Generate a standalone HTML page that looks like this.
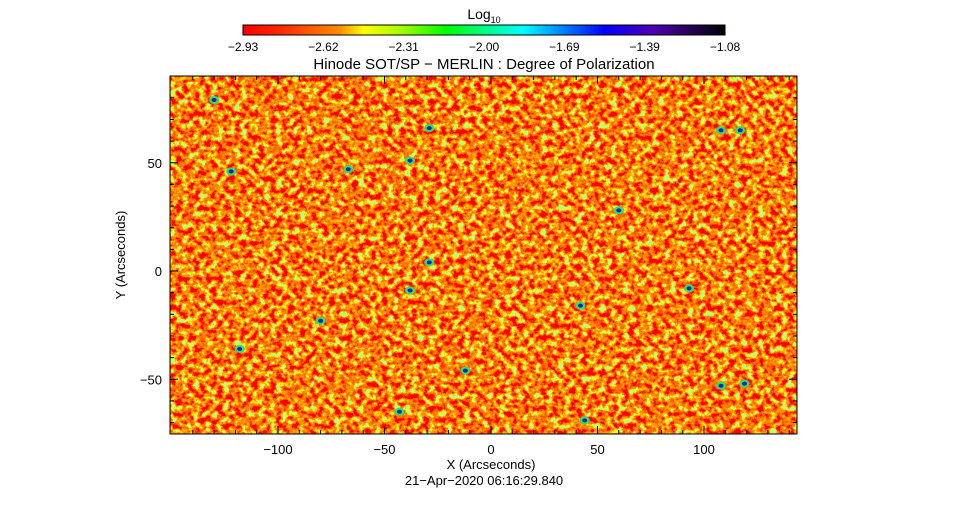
<!DOCTYPE html>
<html><head><meta charset="utf-8"><style>
body{margin:0;background:#fff;}
svg text{font-family:"Liberation Sans",sans-serif;fill:#000;}
</style></head><body>
<svg id="chart" width="967" height="512" viewBox="0 0 967 512">
<defs>
<linearGradient id="cbar" x1="0" x2="1" y1="0" y2="0">
<stop offset="0" stop-color="#ff0000"/><stop offset="0.08" stop-color="#ff2a00"/><stop offset="0.2" stop-color="#ff8c00"/><stop offset="0.25" stop-color="#ffff00"/><stop offset="0.33" stop-color="#a0ff00"/><stop offset="0.42" stop-color="#00ff00"/><stop offset="0.58" stop-color="#00ffff"/><stop offset="0.75" stop-color="#0000ff"/><stop offset="0.85" stop-color="#5000b0"/><stop offset="1" stop-color="#000000"/>
</linearGradient>
<filter id="noise" x="0" y="0" width="100%" height="100%">
<feTurbulence type="fractalNoise" baseFrequency="0.17" numOctaves="4" seed="7"/>
<feColorMatrix type="matrix" values="2.4 0 0 0 -0.7  2.4 0 0 0 -0.7  2.4 0 0 0 -0.7  0 0 0 0 1"/>
<feComponentTransfer>
<feFuncR type="discrete" tableValues="1 1 1 1 1 1 1 1 1 0.5"/>
<feFuncG type="discrete" tableValues="0 0 0.05 0.1 0.17 0.25 0.35 0.5 0.9 1"/>
<feFuncB type="discrete" tableValues="0 0 0 0 0 0 0 0 0 0.2"/>
</feComponentTransfer>
</filter>
<clipPath id="plotclip"><rect x="170" y="76" width="627" height="358"/></clipPath>
</defs>
<text x="484" y="19" font-size="14" text-anchor="middle">Log<tspan font-size="9" dy="4">10</tspan></text>
<rect x="243" y="25" width="482" height="10" fill="url(#cbar)" stroke="#000"/>
<g id="cbticks"></g>
<text x="484" y="69" font-size="15" text-anchor="middle">Hinode SOT/SP − MERLIN : Degree of Polarization</text>
<rect x="170" y="76" width="627" height="358" fill="#f00" filter="url(#noise)"/>
<g id="blobs" clip-path="url(#plotclip)"></g>
<rect x="170" y="76" width="627" height="358" fill="none" stroke="#000"/>
<g id="axes"></g>
<text x="491" y="469" font-size="13" text-anchor="middle">X (Arcseconds)</text>
<text x="125" y="255" font-size="13" text-anchor="middle" transform="rotate(-90 125 255)">Y (Arcseconds)</text>
<text x="484" y="485" font-size="13" text-anchor="middle">21−Apr−2020 06:16:29.840</text>
</svg>
<script>
const cbLabels=["−2.93","−2.62","−2.31","−2.00","−1.69","−1.39","−1.08"];
const xTicks=[-100,-50,0,50,100];
const yTicks=[-50,0,50];
const blobX=[-130,-122,-67,-38,-29,60,93,108,119,-43,44,42,-38,-29,-118,108,117,-12,-80];
const blobY=[79,46,47,51,66,28,-8,-53,-52,-65,-69,-16,-9,4,-36,65,65,-46,-23];
const NS="http://www.w3.org/2000/svg";
const sx=v=>491+v*2.13, sy=v=>271-v*2.165;
function mk(tag,attrs,parent){const e=document.createElementNS(NS,tag);for(const k in attrs)e.setAttribute(k,attrs[k]);parent.appendChild(e);return e;}
const cb=document.getElementById('cbticks');
cbLabels.forEach((l,i)=>{const x=243+i*482/6;const t=mk('text',{x:x,y:51,'font-size':12,'text-anchor':'middle'},cb);t.textContent=l;

});
const ax=document.getElementById('axes');
for(let v=-140;v<=140;v+=10){const x=sx(v);const len=v%50===0?8:4;
mk('line',{x1:x,x2:x,y1:434,y2:434-len,stroke:'#000'},ax);mk('line',{x1:x,x2:x,y1:76,y2:76+len,stroke:'#000'},ax);}
for(let v=-70;v<=80;v+=10){const y=sy(v);const len=v%50===0?8:4;
mk('line',{x1:170,x2:170+len,y1:y,y2:y,stroke:'#000'},ax);mk('line',{x1:797,x2:797-len,y1:y,y2:y,stroke:'#000'},ax);}
xTicks.forEach(v=>{const t=mk('text',{x:sx(v),y:454,'font-size':13,'text-anchor':'middle'},ax);t.textContent=v<0?'−'+(-v):v;

});
yTicks.forEach(v=>{const t=mk('text',{x:162,y:sy(v)+5,'font-size':13,'text-anchor':'end'},ax);t.textContent=v<0?'−'+(-v):v;

});
const bg=document.getElementById('blobs');
blobX.forEach((v,i)=>{const cx=sx(v),cy=sy(blobY[i]);
const g=mk('ellipse',{cx:cx,cy:cy,rx:5,ry:4,fill:'#30e060'},bg);


const b=mk('ellipse',{cx:cx,cy:cy,rx:2.5,ry:2,fill:'#0020d0'},bg);

});
</script>
</body></html>
